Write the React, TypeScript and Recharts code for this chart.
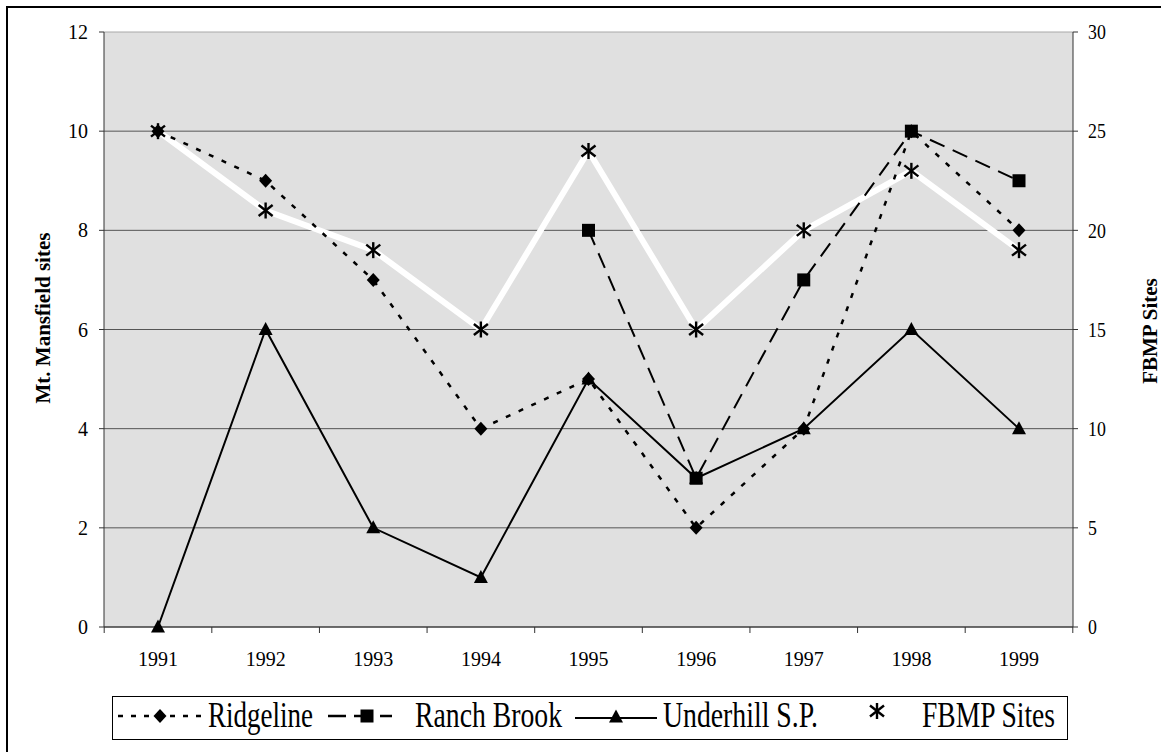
import React from "react";
import { CartesianGrid, Line, LineChart, XAxis, YAxis } from "recharts";

const YEARS = ["1991", "1992", "1993", "1994", "1995", "1996", "1997", "1998", "1999"];
const RIDGELINE = [10, 9, 7, 4, 5, 2, 4, 10, 8];
const RANCH_BROOK = [null, null, null, null, 8, 3, 7, 10, 9];
const UNDERHILL = [0, 6, 2, 1, 5, 3, 4, 6, 4];
const FBMP_SITES = [25, 21, 19, 15, 24, 15, 20, 23, 19];
const LEFT_TICKS = [0, 2, 4, 6, 8, 10, 12];
const RIGHT_TICKS = [0, 5, 10, 15, 20, 25, 30];

const data = YEARS.map((year, i) => ({
  year,
  ridgeline: RIDGELINE[i],
  ranchBrook: RANCH_BROOK[i],
  underhill: UNDERHILL[i],
  fbmp: FBMP_SITES[i]
}));

const SERIF = "'Liberation Serif', 'Times New Roman', serif";
const AXIS = "#333";
const HALF_BAND = 53.8;

const Diamond = ({ cx, cy }: { cx: number; cy: number }) => (
  <polygon points={`${cx},${cy - 7} ${cx + 6.5},${cy} ${cx},${cy + 7} ${cx - 6.5},${cy}`} fill="#000" />
);
const Square = ({ cx, cy }: { cx: number; cy: number }) => (
  <rect x={cx - 6.5} y={cy - 6.5} width={13} height={13} fill="#000" />
);
const Triangle = ({ cx, cy }: { cx: number; cy: number }) => (
  <polygon points={`${cx},${cy - 7.5} ${cx + 7},${cy + 5.5} ${cx - 7},${cy + 5.5}`} fill="#000" />
);
const Star = ({ cx, cy }: { cx: number; cy: number }) => (
  <g stroke="#000" strokeWidth={2.4}>
    <line x1={cx} y1={cy - 8} x2={cx} y2={cy + 8} />
    <line x1={cx - 7} y1={cy - 5.5} x2={cx + 7} y2={cy + 5.5} />
    <line x1={cx - 7} y1={cy + 5.5} x2={cx + 7} y2={cy - 5.5} />
  </g>
);

const dotOf = (Shape: any) => (props: any) => {
  const { cx, cy, index } = props;
  if (cx == null || cy == null || props.value == null) return <g key={`d-${index}`} />;
  return (
    <g key={`d-${index}`}>
      <Shape cx={cx} cy={cy} />
    </g>
  );
};

const XTick = (props: any) => {
  const { x, y, payload, index } = props;
  return (
    <g>
      <line x1={x - HALF_BAND} x2={x - HALF_BAND} y1={y} y2={y + 6} stroke={AXIS} />
      {index === YEARS.length - 1 && (
        <line x1={x + HALF_BAND} x2={x + HALF_BAND} y1={y} y2={y + 6} stroke={AXIS} />
      )}
      <text x={x} y={y + 39} textAnchor="middle" fontSize={20} fontFamily={SERIF} fill="#000">
        {payload.value}
      </text>
    </g>
  );
};

const RightTick = (props: any) => {
  const { x, y, payload } = props;
  const s = String(payload.value);
  return (
    <text
      x={x}
      y={y + 7.3}
      textAnchor="start"
      fontSize={21.5}
      fontFamily={SERIF}
      fill="#000"
      textLength={s.length * 8.9}
      lengthAdjust="spacingAndGlyphs"
    >
      {s}
    </text>
  );
};

const gridLine = (props: any) => {
  const { x1, x2, y1, y2, index } = props;
  const top = y1 < 40;
  return (
    <line
      key={`gl-${index}`}
      x1={x1}
      x2={x2}
      y1={y1}
      y2={y2}
      stroke={top ? "#a8a8a8" : "#555"}
      strokeWidth={1}
    />
  );
};

function LegendOverlay() {
  const text = { fontFamily: SERIF, fontSize: 36, fill: "#000" } as const;
  return (
    <svg
      width={1161}
      height={752}
      style={{ position: "absolute", left: 0, top: 0, pointerEvents: "none" }}
    >
      {/* axis titles */}
      <text
        transform="translate(50, 318) rotate(-90)"
        textAnchor="middle"
        fontFamily={SERIF}
        fontWeight="bold"
        fontSize={21}
        fill="#000"
      >
        Mt. Mansfield sites
      </text>
      <text
        transform="translate(1157, 331) rotate(-90)"
        textAnchor="middle"
        fontFamily={SERIF}
        fontWeight="bold"
        fontSize={21}
        fill="#000"
      >
        FBMP Sites
      </text>

      {/* legend */}
      <rect x={112.5} y={696.5} width={955} height={43} fill="#fff" stroke="#000" strokeWidth={1} />
      <line x1={118} x2={202} y1={716} y2={716} stroke="#000" strokeWidth={2.5} strokeDasharray="5 8" />
      <Diamond cx={160} cy={716} />
      <text x={208} y={727} {...text} textLength={105} lengthAdjust="spacingAndGlyphs">
        Ridgeline
      </text>

      <line x1={328} x2={392} y1={716} y2={716} stroke="#000" strokeWidth={2.5} strokeDasharray="18 8" />
      <Square cx={367} cy={716} />
      <text x={415} y={727} {...text} textLength={147} lengthAdjust="spacingAndGlyphs">
        Ranch Brook
      </text>

      <line x1={575} x2={657} y1={718} y2={718} stroke="#000" strokeWidth={2} />
      <Triangle cx={616} cy={717} />
      <text x={663} y={727} {...text} textLength={155} lengthAdjust="spacingAndGlyphs">
        Underhill S.P.
      </text>

      <Star cx={877} cy={711} />
      <text x={922} y={727} {...text} textLength={133} lengthAdjust="spacingAndGlyphs">
        FBMP Sites
      </text>
    </svg>
  );
}

export default function App() {
  return (
    <div
      style={{
        position: "absolute",
        left: 0,
        top: 0,
        width: 1161,
        height: 752,
        background: "#fff",
        overflow: "hidden",
        fontFamily: SERIF
      }}
    >
      <div
        style={{
          position: "absolute",
          left: 6,
          top: 6,
          width: 1200,
          height: 800,
          borderLeft: "2px solid #000",
          borderTop: "2px solid #000"
        }}
      />
      <div style={{ position: "absolute", left: 0, top: 0 }}>
        <LineChart width={1161} height={752} data={data} margin={{ top: 32, right: 0, bottom: 95, left: 0 }}>
          <CartesianGrid
            yAxisId="left"
            vertical={false}
            horizontal={gridLine}
            fill="#e0e0e0"
            fillOpacity={1}
          />
          <XAxis
            dataKey="year"
            height={30}
            interval={0}
            padding={{ left: 54, right: 54 }}
            tickLine={false}
            tickSize={0}
            tickMargin={0}
            axisLine={{ stroke: AXIS }}
            tick={<XTick />}
          />
          <YAxis
            yAxisId="left"
            width={104}
            domain={[0, 12]}
            ticks={LEFT_TICKS}
            tickSize={5}
            tickMargin={11}
            axisLine={{ stroke: AXIS }}
            tickLine={{ stroke: AXIS }}
            tick={{ fontSize: 20, fill: "#000", fontFamily: SERIF }}
          />
          <YAxis
            yAxisId="right"
            orientation="right"
            width={88}
            domain={[0, 30]}
            ticks={RIGHT_TICKS}
            tickSize={5}
            tickMargin={10}
            axisLine={{ stroke: AXIS }}
            tickLine={{ stroke: AXIS }}
            tick={<RightTick />}
          />
          <Line
            yAxisId="right"
            dataKey="fbmp"
            stroke="#fff"
            strokeWidth={6}
            dot={dotOf(Star)}
            activeDot={false}
            isAnimationActive={false}
          />
          <Line
            yAxisId="left"
            dataKey="ridgeline"
            stroke="#000"
            strokeWidth={2.5}
            strokeDasharray="5 9"
            dot={dotOf(Diamond)}
            activeDot={false}
            isAnimationActive={false}
          />
          <Line
            yAxisId="left"
            dataKey="ranchBrook"
            stroke="#000"
            strokeWidth={2}
            strokeDasharray="16 9"
            dot={dotOf(Square)}
            activeDot={false}
            isAnimationActive={false}
          />
          <Line
            yAxisId="left"
            dataKey="underhill"
            stroke="#000"
            strokeWidth={2}
            dot={dotOf(Triangle)}
            activeDot={false}
            isAnimationActive={false}
          />
        </LineChart>
      </div>
      <LegendOverlay />
    </div>
  );
}
